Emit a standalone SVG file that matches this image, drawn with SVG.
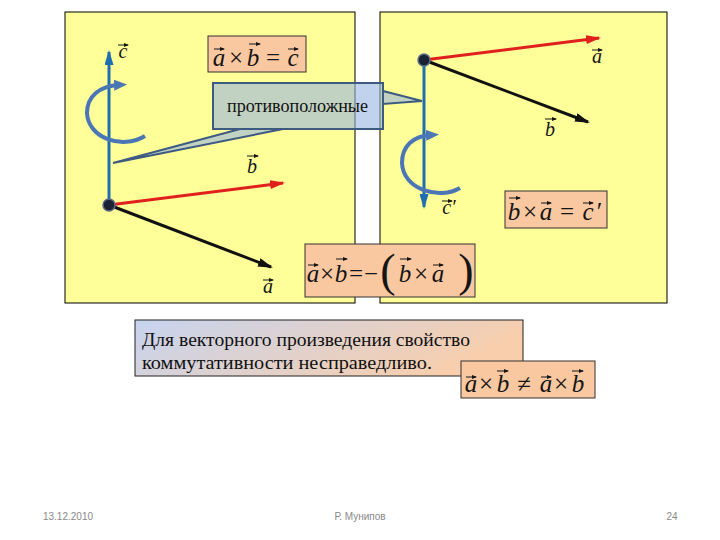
<svg xmlns="http://www.w3.org/2000/svg" width="720" height="540" viewBox="0 0 720 540">
<style>
.panel{fill:#FFFF99;stroke:#000;stroke-width:1}
.fbox{fill:#F9C8A0;stroke:#333;stroke-width:1}
.m{font-family:"Liberation Serif","Times New Roman",serif;font-style:italic;font-size:25px;fill:#151515;text-anchor:middle}
.op{font-style:normal}
.lbl{font-family:"Liberation Serif","Times New Roman",serif;font-style:italic;font-size:20px;fill:#151515;text-anchor:middle}
.acc{stroke:#151515;stroke-width:1;fill:none;marker-end:url(#ah)}
.vr{stroke:#E0201C;stroke-width:3;fill:none;marker-end:url(#mr)}
.vk{stroke:#111;stroke-width:3;fill:none;marker-end:url(#mk)}
.vb{stroke:#1E6EB0;stroke-width:3;fill:none;marker-end:url(#mb)}
.arc{stroke:#4A76B6;stroke-width:4;fill:none;marker-end:url(#ma)}
.callout{fill:#98B4E0;fill-opacity:0.6;stroke:#3D5A80;stroke-width:2}
.txt{font-family:"Liberation Serif","Times New Roman",serif;font-size:18px;fill:#111}
.foot{font-family:"Liberation Sans",Arial,sans-serif;font-size:10px;fill:#898989;text-anchor:middle}
</style>
<defs>
<marker id="ah" markerUnits="userSpaceOnUse" markerWidth="5" markerHeight="4" viewBox="0 0 5 4" refX="4" refY="2" orient="auto"><path d="M0,0 L5,2 L0,4 z" fill="#151515"/></marker>
<marker id="mr" markerUnits="userSpaceOnUse" markerWidth="15" markerHeight="9" viewBox="0 0 15 9" refX="13" refY="4.5" orient="auto"><path d="M0,0 L15,4.5 L0,9 z" fill="#E0201C"/></marker>
<marker id="mk" markerUnits="userSpaceOnUse" markerWidth="15" markerHeight="9" viewBox="0 0 15 9" refX="13" refY="4.5" orient="auto"><path d="M0,0 L15,4.5 L0,9 z" fill="#111"/></marker>
<marker id="mb" markerUnits="userSpaceOnUse" markerWidth="15" markerHeight="9" viewBox="0 0 15 9" refX="13" refY="4.5" orient="auto"><path d="M0,0 L15,4.5 L0,9 z" fill="#1E6EB0"/></marker>
<marker id="ma" markerUnits="userSpaceOnUse" markerWidth="13" markerHeight="11" viewBox="0 0 13 11" refX="5" refY="5.5" orient="auto"><path d="M0,0 L13,5.5 L0,11 z" fill="#4A76B6"/></marker>
<linearGradient id="gtxt" x1="0" y1="0" x2="1" y2="0.3"><stop offset="0" stop-color="#C6D4F0"/><stop offset="1" stop-color="#F8CEAC"/></linearGradient>
</defs>

<g id="panel-left"><rect class="panel" x="65" y="12" width="290" height="291"/></g>
<g id="panel-right"><rect class="panel" x="380" y="12" width="287" height="291"/></g>

<g id="eq-axb-c">
<rect class="fbox" x="208" y="36" width="98" height="36"/>
<text class="m" y="66"><tspan x="219">a</tspan><tspan x="236" class="op">×</tspan><tspan x="253">b</tspan><tspan x="273" class="op">=</tspan><tspan x="293">c</tspan></text>
<path class="acc" d="M214,49 h10"/><path class="acc" d="M249,44 h11"/><path class="acc" d="M288,49 h10"/>
</g>

<g id="eq-bxa-c1">
<rect class="fbox" x="505" y="191" width="102" height="37"/>
<text class="m" y="220"><tspan x="514">b</tspan><tspan x="530" class="op">×</tspan><tspan x="546">a</tspan><tspan x="567" class="op">=</tspan><tspan x="588">c</tspan><tspan x="598">′</tspan></text>
<path class="acc" d="M509,198 h11"/><path class="acc" d="M541,203 h10"/><path class="acc" d="M583,203 h10"/>
</g>

<g id="eq-anti">
<rect class="fbox" x="305" y="244" width="170" height="53"/>
<text class="m" y="282"><tspan x="313">a</tspan><tspan x="327" class="op">×</tspan><tspan x="341">b</tspan><tspan x="356" class="op">=</tspan><tspan x="371" class="op">−</tspan><tspan x="388" class="op" font-size="46" dy="4">(</tspan><tspan x="405" dy="-4">b</tspan><tspan x="421" class="op">×</tspan><tspan x="438">a</tspan><tspan x="466" class="op" font-size="46" dy="4">)</tspan></text>
<path class="acc" d="M308,265 h10"/><path class="acc" d="M336,259 h11"/><path class="acc" d="M400,259 h11"/><path class="acc" d="M433,265 h10"/>
</g>

<g id="connectors">
<path class="vr" d="M109,205 L283,183"/>
<path class="vk" d="M109,205 L271,267"/>
<path class="vb" d="M109,205 L109,52"/>
<path class="arc" d="M145,136 C122,150 88,138 87,113 C87,96 100,86 119,85"/>
<path class="vr" d="M424,60 L599,38"/>
<path class="vk" d="M424,60 L588,122"/>
<path class="vb" d="M424,60 L424,207"/>
<path class="arc" d="M460,188 C440,200 403,190 402,163 C402,146 413,136 431,135"/>
</g>

<g id="origin-left"><circle cx="109" cy="205" r="6" fill="#1A2233" stroke="#5A6C8A" stroke-width="1.5"/></g>
<g id="origin-right"><circle cx="424" cy="60" r="6" fill="#1A2233" stroke="#5A6C8A" stroke-width="1.5"/></g>

<g id="labels-left">
<text class="lbl" x="123" y="58">c</text><path class="acc" d="M118,45 h10"/>
<text class="lbl" x="252" y="173">b</text><path class="acc" d="M247,156 h11"/>
<text class="lbl" x="268" y="293">a</text><path class="acc" d="M263,280 h10"/>
</g>
<g id="labels-right">
<text class="lbl" x="597" y="63">a</text><path class="acc" d="M592,50 h10"/>
<text class="lbl" x="550" y="136">b</text><path class="acc" d="M545,119 h11"/>
<text class="lbl" x="449" y="214">c′</text><path class="acc" d="M442,201 h10"/>
</g>

<g id="callout">
<path class="callout" d="M113,163 L240,129 L283,129 Z"/>
<path class="callout" d="M383,91 L422,101 L383,104 Z"/>
<rect class="callout" x="213" y="83" width="170" height="46"/>
<text class="txt" x="227" y="112" font-size="17" textLength="141" lengthAdjust="spacingAndGlyphs">противоположные</text>
</g>

<g id="note">
<rect x="135" y="320" width="388" height="56" fill="url(#gtxt)" stroke="#222" stroke-width="1"/>
<text class="txt" x="142" y="346" textLength="328" lengthAdjust="spacingAndGlyphs">Для векторного произведения свойство</text>
<text class="txt" x="142" y="369" textLength="290" lengthAdjust="spacingAndGlyphs">коммутативности несправедливо.</text>
</g>

<g id="eq-neq">
<rect class="fbox" x="461" y="361" width="134" height="37"/>
<text class="m" y="392" font-size="27"><tspan x="471">a</tspan><tspan x="486" class="op">×</tspan><tspan x="503">b</tspan><tspan x="524" class="op">≠</tspan><tspan x="546">a</tspan><tspan x="561" class="op">×</tspan><tspan x="578">b</tspan></text>
<path class="acc" d="M466,377 h10"/><path class="acc" d="M497,371 h11"/><path class="acc" d="M541,377 h10"/><path class="acc" d="M572,371 h11"/>
</g>

<g id="footer">
<text class="foot" x="68" y="520">13.12.2010</text>
<text class="foot" x="360" y="520">Р. Мунипов</text>
<text class="foot" x="672" y="520">24</text>
</g>
</svg>
